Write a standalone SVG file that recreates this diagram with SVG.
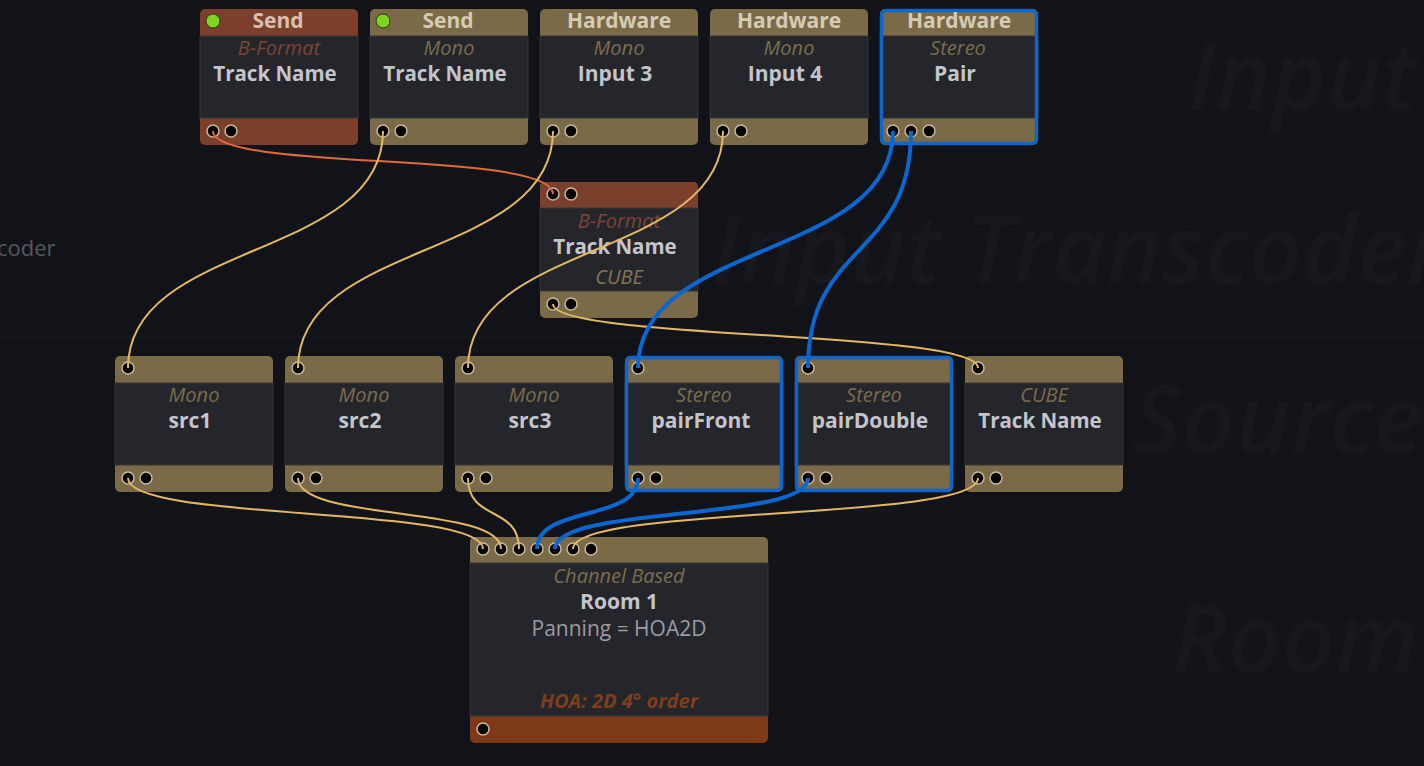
<svg xmlns="http://www.w3.org/2000/svg" width="1424" height="766" viewBox="0 0 1424 766">
<defs>
<style>
text{font-family:"Open Sans","Noto Sans","Liberation Sans",sans-serif;text-anchor:middle}
.wm{font-size:94px;font-style:italic;font-weight:600;fill:#17181d;text-anchor:start}
.lane{font-size:22px;fill:#55575d;text-anchor:start}
.body{fill:#25262b;stroke:#35363b;stroke-width:1}
.hd{font-size:21px;font-weight:700;fill:#d6cab4}
.hdr{fill:#d8bfae}
.sub{font-size:20px;font-style:italic;fill:#7c6c4e}
.subr{fill:#7c4534}
.ttl{font-size:21px;font-weight:700;fill:#c3c5cb}
.gold{fill:#7b6a48}
.red{fill:#7b3f2c}
.orn{fill:#7e3a16}
.port{fill:#000;stroke:#c9b99b;stroke-width:1.5}
.led{fill:#7fd321;stroke:#2b3a12;stroke-width:1}
.sel{fill:none;stroke:#0d66cc;stroke-width:3.5}
.w{fill:none;stroke:#e3b865;stroke-width:2}
.wo{fill:none;stroke:#e06a3b;stroke-width:2}
.wb{fill:none;stroke:#0b67d0;stroke-width:4}
</style>
</defs>
<rect x="0" y="0" width="1424" height="766" fill="#121318"/>
<g id="lanes">
<line x1="0" y1="337" x2="1424" y2="337" stroke="#15161a" stroke-width="2"/>
<line x1="0" y1="510" x2="1424" y2="510" stroke="#15161a" stroke-width="2"/>
<text class="wm" x="1188" y="110">Input</text>
<text class="wm" x="712" y="283">Input Transcoder</text>
<text class="wm" x="1133" y="453">Source</text>
<text class="wm" x="1172" y="672">Room</text>
<text class="lane" x="-3" y="256">coder</text>
</g>

<g id="send-bformat">
<rect class="red" x="200" y="9" width="158" height="136" rx="5"/>
<rect class="body" x="200" y="36" width="158" height="82"/>
<circle class="led" cx="213" cy="21" r="7"/>
<text class="hd hdr" x="278" y="28">Send</text>
<text class="sub subr" x="279" y="55">B-Format</text>
<text class="ttl" x="275" y="81" style="font-size:20.5px">Track Name</text>
<circle class="port" cx="213" cy="131" r="6"/><circle class="port" cx="231" cy="131" r="6"/>
</g>
<g id="send-mono">
<rect class="gold" x="370" y="9" width="158" height="136" rx="5"/>
<rect class="body" x="370" y="36" width="158" height="82"/>
<circle class="led" cx="383" cy="21" r="7"/>
<text class="hd" x="448" y="28">Send</text>
<text class="sub" x="449" y="55">Mono</text>
<text class="ttl" x="445" y="81" style="font-size:20.5px">Track Name</text>
<circle class="port" cx="383" cy="131" r="6"/><circle class="port" cx="401" cy="131" r="6"/>
</g>
<g id="hw-input3">
<rect class="gold" x="540" y="9" width="158" height="136" rx="5"/>
<rect class="body" x="540" y="36" width="158" height="82"/>
<text class="hd" x="619" y="28">Hardware</text>
<text class="sub" x="619" y="55">Mono</text>
<text class="ttl" x="615" y="81">Input 3</text>
<circle class="port" cx="553" cy="131" r="6"/><circle class="port" cx="571" cy="131" r="6"/>
</g>
<g id="hw-input4">
<rect class="gold" x="710" y="9" width="158" height="136" rx="5"/>
<rect class="body" x="710" y="36" width="158" height="82"/>
<text class="hd" x="789" y="28">Hardware</text>
<text class="sub" x="789" y="55">Mono</text>
<text class="ttl" x="785" y="81">Input 4</text>
<circle class="port" cx="723" cy="131" r="6"/><circle class="port" cx="741" cy="131" r="6"/>
</g>
<g id="hw-pair">
<rect class="gold" x="880" y="9" width="158" height="136" rx="5"/>
<rect class="body" x="880" y="36" width="158" height="82"/>
<rect class="sel" x="881.5" y="10.5" width="155" height="133" rx="5"/>
<text class="hd" x="959" y="28">Hardware</text>
<text class="sub" x="958" y="55">Stereo</text>
<text class="ttl" x="955" y="81">Pair</text>
<circle class="port" cx="893" cy="131" r="6"/><circle class="port" cx="911" cy="131" r="6"/><circle class="port" cx="929" cy="131" r="6"/>
</g>

<g id="transcoder-bformat">
<rect class="gold" x="540" y="182" width="158" height="136" rx="5"/>
<path class="red" d="M545,182H693A5,5 0 0 1 698,187V208H540V187A5,5 0 0 1 545,182Z"/>
<rect class="body" x="540" y="208" width="158" height="83"/>
<text class="sub subr" x="619" y="228">B-Format</text>
<text class="ttl" x="615" y="254" style="font-size:20.5px">Track Name</text>
<text class="sub" x="619" y="284" style="fill:#86744f">CUBE</text>
<circle class="port" cx="553" cy="194" r="6"/><circle class="port" cx="571" cy="194" r="6"/>
<circle class="port" cx="553" cy="304" r="6"/><circle class="port" cx="571" cy="304" r="6"/>
</g>

<g id="src1">
<rect class="gold" x="115" y="356" width="158" height="136" rx="5"/>
<rect class="body" x="115" y="383" width="158" height="82"/>
<text class="sub" x="194" y="402">Mono</text>
<text class="ttl" x="190" y="428">src1</text>
<circle class="port" cx="128" cy="368" r="6"/>
<circle class="port" cx="128" cy="478" r="6"/><circle class="port" cx="146" cy="478" r="6"/>
</g>
<g id="src2">
<rect class="gold" x="285" y="356" width="158" height="136" rx="5"/>
<rect class="body" x="285" y="383" width="158" height="82"/>
<text class="sub" x="364" y="402">Mono</text>
<text class="ttl" x="360" y="428">src2</text>
<circle class="port" cx="298" cy="368" r="6"/>
<circle class="port" cx="298" cy="478" r="6"/><circle class="port" cx="316" cy="478" r="6"/>
</g>
<g id="src3">
<rect class="gold" x="455" y="356" width="158" height="136" rx="5"/>
<rect class="body" x="455" y="383" width="158" height="82"/>
<text class="sub" x="534" y="402">Mono</text>
<text class="ttl" x="530" y="428">src3</text>
<circle class="port" cx="468" cy="368" r="6"/>
<circle class="port" cx="468" cy="478" r="6"/><circle class="port" cx="486" cy="478" r="6"/>
</g>
<g id="pairFront">
<rect class="gold" x="625" y="356" width="158" height="136" rx="5"/>
<rect class="body" x="625" y="383" width="158" height="82"/>
<rect class="sel" x="626.5" y="357.5" width="155" height="133" rx="5"/>
<text class="sub" x="704" y="402">Stereo</text>
<text class="ttl" x="701" y="428">pairFront</text>
<circle class="port" cx="638" cy="368" r="6"/>
<circle class="port" cx="638" cy="478" r="6"/><circle class="port" cx="656" cy="478" r="6"/>
</g>
<g id="pairDouble">
<rect class="gold" x="795" y="356" width="158" height="136" rx="5"/>
<rect class="body" x="795" y="383" width="158" height="82"/>
<rect class="sel" x="796.5" y="357.5" width="155" height="133" rx="5"/>
<text class="sub" x="874" y="402">Stereo</text>
<text class="ttl" x="870" y="428">pairDouble</text>
<circle class="port" cx="808" cy="368" r="6"/>
<circle class="port" cx="808" cy="478" r="6"/><circle class="port" cx="826" cy="478" r="6"/>
</g>
<g id="cube-track">
<rect class="gold" x="965" y="356" width="158" height="136" rx="5"/>
<rect class="body" x="965" y="383" width="158" height="82"/>
<text class="sub" x="1044" y="402">CUBE</text>
<text class="ttl" x="1040" y="428" style="font-size:20.5px">Track Name</text>
<circle class="port" cx="978" cy="368" r="6"/>
<circle class="port" cx="978" cy="478" r="6"/><circle class="port" cx="996" cy="478" r="6"/>
</g>

<g id="room1">
<rect class="orn" x="470" y="537" width="298" height="206" rx="5"/>
<path class="gold" d="M475,537H763A5,5 0 0 1 768,542V563H470V542A5,5 0 0 1 475,537Z"/>
<rect class="body" x="470" y="563" width="298" height="153"/>
<text class="sub" x="619" y="583">Channel Based</text>
<text class="ttl" x="619" y="609">Room 1</text>
<text x="619" y="636" style="font-size:21px;fill:#9a9ca3">Panning = HOA2D</text>
<text class="sub" x="619" y="708" style="font-weight:700;fill:#7f3d1b">HOA: 2D 4° order</text>
<circle class="port" cx="483" cy="549" r="6"/><circle class="port" cx="501" cy="549" r="6"/>
<circle class="port" cx="519" cy="549" r="6"/><circle class="port" cx="537" cy="549" r="6"/>
<circle class="port" cx="555" cy="549" r="6"/><circle class="port" cx="573" cy="549" r="6"/>
<circle class="port" cx="591" cy="549" r="6"/>
<circle class="port" cx="483" cy="729" r="6"/>
</g>

<g id="connectors">
<path class="wo" d="M213,131C213,172 553,150 553,194"/>
<path class="w" d="M383,131C383,260 128,240 128,368"/>
<path class="w" d="M553,131C553,260 298,240 298,368"/>
<path class="w" d="M723,131C723,260 468,240 468,368"/>
<path class="w" d="M553,304C553,340 978,330 978,368"/>
<path class="w" d="M128,478C128,522 483,505 483,549"/>
<path class="w" d="M298,478C298,522 501,505 501,549"/>
<path class="w" d="M468,478C468,522 519,505 519,549"/>
<path class="w" d="M978,478C978,522 573,505 573,549"/>
<path class="wb" d="M893,131C893,260 638,240 638,368"/>
<path class="wb" d="M911,131C911,260 808,240 808,368"/>
<path class="wb" d="M638,478C638,522 537,505 537,549"/>
<path class="wb" d="M808,478C808,522 555,505 555,549"/>
</g>
</svg>
